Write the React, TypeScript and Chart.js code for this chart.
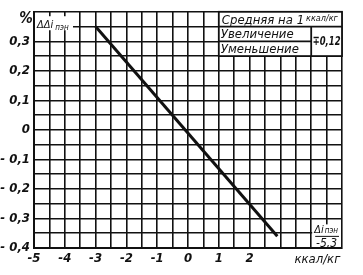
import React, { useEffect, useRef } from "react";
import { Chart, registerables } from "chart.js";

Chart.register(...registerables);

// Data
const lineX = [-3, 2.9];
const lineY = [0.35, -0.36];
const xLabeledTicks = [-5, -4, -3, -2, -1, 0, 1, 2];
const yLabeledTicks = [0.3, 0.2, 0.1, 0, -0.1, -0.2, -0.3, -0.4];
const tableTitle = "Средняя на 1";
const tableUnit = "ккал/кг";
const rowIncrease = "Увеличение";
const rowDecrease = "Уменьшение";
const tableValue = "∓0,12";
const cornerLabel = "Δi";
const cornerSub = "пэн";
const cornerValue = "-5,3";
const yTitle = "ΔΔi";
const xUnit = "ккал/кг";

const FONT = "'Liberation Sans Narrow', 'DejaVu Sans Condensed', 'DejaVu Sans', sans-serif";
const INK = "#111";

const fmt = (v: number) => {
  if (v === 0) return "0";
  const s = Math.abs(v).toFixed(1).replace(".", ",");
  return v < 0 ? "- " + s : s;
};

const annotations = {
  id: "annotations",
  afterDraw(chart: any) {
    const ctx = chart.ctx as CanvasRenderingContext2D;
    const xs = chart.scales.x;
    const ys = chart.scales.y;
    const X = (v: number) => xs.getPixelForValue(v);
    const Y = (v: number) => ys.getPixelForValue(v);
    ctx.save();

    // legend table
    const l = X(1), r = X(5), m = X(4);
    const t = Y(0.4), r1 = Y(0.35), r2 = Y(0.3), b = Y(0.25);
    ctx.fillStyle = "#fff";
    ctx.fillRect(l, t, r - l, b - t);
    ctx.strokeStyle = INK;
    ctx.lineWidth = 1.8;
    ctx.strokeRect(l, t, r - l, b - t);
    ctx.beginPath();
    ctx.moveTo(l, r1); ctx.lineTo(r, r1);
    ctx.moveTo(l, r2); ctx.lineTo(m, r2);
    ctx.moveTo(m, r1); ctx.lineTo(m, b);
    ctx.stroke();
    ctx.fillStyle = INK;
    ctx.textBaseline = "middle";
    ctx.textAlign = "left";
    ctx.font = `italic 13px ${FONT}`;
    ctx.fillText(tableTitle, l + 3, (t + r1) / 2 + 1);
    const tw = ctx.measureText(tableTitle).width;
    ctx.font = `italic 9px ${FONT}`;
    ctx.fillText(tableUnit, l + 5 + tw, (t + r1) / 2 - 1, r - (l + 5 + tw) - 2);
    ctx.font = `italic 13px ${FONT}`;
    ctx.fillText(rowIncrease, l + 2, (r1 + r2) / 2 + 1);
    ctx.fillText(rowDecrease, l + 2, (r2 + b) / 2 + 1);
    ctx.textAlign = "center";
    ctx.font = `italic bold 13px ${FONT}`;
    ctx.fillText(tableValue, (m + r) / 2, (r1 + b) / 2, r - m - 3);

    // corner label bottom right
    const cl = X(4) + 1, cr = X(5) - 1, ct = Y(-0.32), cb = Y(-0.4) - 1;
    ctx.fillStyle = "#fff";
    ctx.fillRect(cl, ct, cr - cl, cb - ct);
    ctx.fillStyle = INK;
    ctx.textAlign = "left";
    ctx.font = `italic 11px ${FONT}`;
    ctx.fillText(cornerLabel, cl + 2, ct + 6);
    const cw = ctx.measureText(cornerLabel).width;
    ctx.font = `italic 8px ${FONT}`;
    ctx.fillText(cornerSub, cl + 3 + cw, ct + 7);
    ctx.beginPath();
    ctx.lineWidth = 1;
    ctx.moveTo(cl + 3, ct + 12); ctx.lineTo(cr - 2, ct + 12);
    ctx.stroke();
    ctx.textAlign = "center";
    ctx.font = `italic 12px ${FONT}`;
    ctx.fillText(cornerValue, (cl + cr) / 2, ct + 19);

    // y title
    const yl = X(-5) + 1, yt = Y(0.385);
    ctx.fillStyle = "#fff";
    ctx.fillRect(yl, yt, 38, 14);
    ctx.fillStyle = INK;
    ctx.textAlign = "left";
    ctx.font = `italic 11px ${FONT}`;
    ctx.fillText(yTitle, yl + 2, Y(0.35) - 1);
    const yw = ctx.measureText(yTitle).width;
    ctx.font = `italic 8px ${FONT}`;
    ctx.fillText("пэн", yl + 4 + yw, Y(0.35) + 1);
    ctx.font = `italic bold 15px ${FONT}`;
    ctx.textAlign = "center";
    ctx.fillText("%", 26, Y(0.375));

    // x unit
    ctx.font = `italic 13px ${FONT}`;
    ctx.fillText(xUnit, X(4.2), xs.bottom - 15);
    ctx.restore();
  },
};

export default function App() {
  const ref = useRef<HTMLCanvasElement>(null);
  useEffect(() => {
    document.body.style.margin = "0";
    if (!ref.current) return;
    const chart = new Chart(ref.current, {
      type: "scatter",
      data: {
        datasets: [
          {
            data: lineX.map((x, i) => ({ x, y: lineY[i] })),
            showLine: true,
            borderColor: INK,
            borderWidth: 3,
            pointRadius: 0,
          },
        ],
      },
      options: {
        animation: false,
        responsive: false,
        layout: { padding: { top: 8, right: 21, left: 0, bottom: 0 } },
        plugins: { legend: { display: false }, tooltip: { enabled: false } },
        scales: {
          x: {
            type: "linear",
            min: -5,
            max: 5,
            afterFit: (s: any) => { s.height = 27; },
            border: { color: INK, width: 2 },
            grid: { color: INK, lineWidth: 1.6, drawTicks: false },
            ticks: {
              stepSize: 0.5,
              autoSkip: false,
              maxRotation: 0,
              padding: 3,
              color: INK,
              font: { family: FONT, size: 13, style: "italic", weight: "bold" },
              callback: (v: any) => {
                const n = Math.round(Number(v) * 10) / 10;
                return xLabeledTicks.includes(n) ? (n < 0 ? "-" + Math.abs(n) : String(n)) : "";
              },
            },
          },
          y: {
            type: "linear",
            min: -0.4,
            max: 0.4,
            afterFit: (s: any) => { s.width = 34; },
            border: { color: INK, width: 2 },
            grid: { color: INK, lineWidth: 1.6, drawTicks: false },
            ticks: {
              stepSize: 0.05,
              autoSkip: false,
              padding: 4,
              color: INK,
              font: { family: FONT, size: 13, style: "italic", weight: "bold" },
              callback: (v: any) => {
                const n = Math.round(Number(v) * 100) / 100;
                return yLabeledTicks.some((t) => Math.abs(t - n) < 1e-6) ? fmt(n) : "";
              },
            },
          },
        },
      },
      plugins: [annotations],
    });
    return () => chart.destroy();
  }, []);
  return <canvas ref={ref} width={363} height={275} style={{ display: "block" }} />;
}
